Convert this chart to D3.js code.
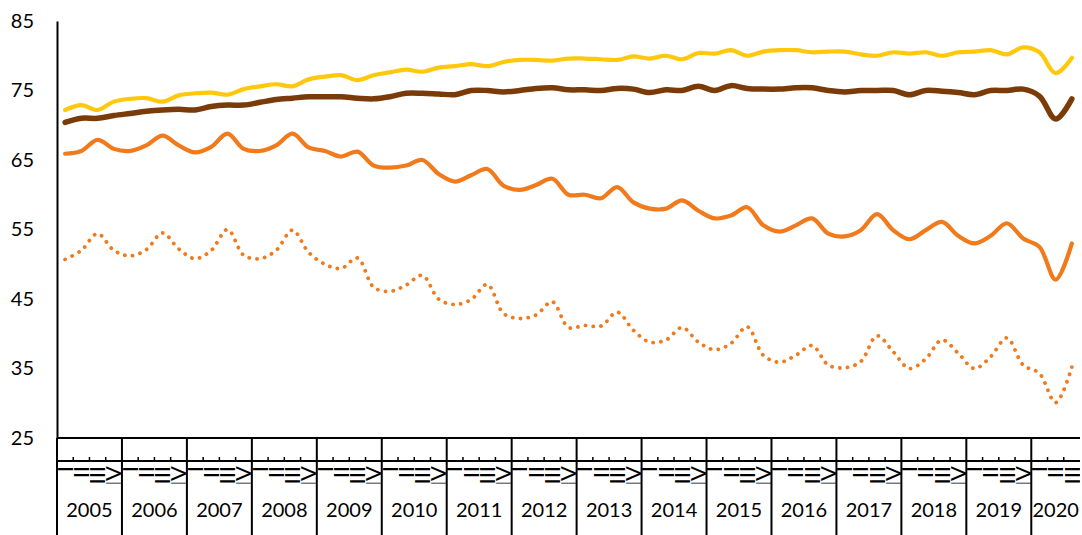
<!DOCTYPE html>
<html lang="en">
<head>
  <meta charset="UTF-8">
  <title>Quarterly series 2005-2020</title>
  <script src="https://cdn.jsdelivr.net/npm/d3@7.9.0/dist/d3.min.js"></script>
  <style>
    body { margin: 0; background: #fff; }
    svg { display: block; font-family: Lato, "Open Sans", sans-serif; }
  </style>
</head>
<body>
<div id="chart"></div>
<script>
  // categories
  const years = [2005, 2006, 2007, 2008, 2009, 2010, 2011, 2012,
                 2013, 2014, 2015, 2016, 2017, 2018, 2019, 2020];
  const quarterNames = ["I", "II", "III", "IV"];
  const quartersIn = [4, 4, 4, 4, 4, 4, 4, 4, 4, 4, 4, 4, 4, 4, 4, 3];
  const yTicks = [25, 35, 45, 55, 65, 75, 85];

  // series values, one per quarter
  const yellowSeries = [
    72.2, 72.9, 72.2, 73.4,  73.8, 73.9, 73.4, 74.3,  74.6, 74.7, 74.4, 75.2,  75.6, 75.9, 75.6, 76.6,
    77.0, 77.2, 76.5, 77.2,  77.6, 78.0, 77.7, 78.3,  78.5, 78.8, 78.5, 79.1,  79.4, 79.4, 79.3, 79.6,
    79.6, 79.5, 79.4, 79.9,  79.6, 80.0, 79.5, 80.4,  80.3, 80.8, 80.0, 80.6,  80.8, 80.8, 80.5, 80.6,
    80.6, 80.2, 80.0, 80.5,  80.3, 80.5, 80.0, 80.5,  80.6, 80.8, 80.2, 81.2,  80.5, 77.5, 79.7
  ];
  const brownSeries = [
    70.4, 71.0, 71.0, 71.4,  71.7, 72.0, 72.2, 72.3,  72.2, 72.7, 72.9, 72.9,  73.3, 73.7, 73.9, 74.1,
    74.1, 74.1, 73.9, 73.8,  74.1, 74.6, 74.6, 74.5,  74.4, 75.0, 75.0, 74.8,  75.0, 75.3, 75.4, 75.1,
    75.1, 75.0, 75.3, 75.2,  74.7, 75.1, 75.0, 75.6,  75.0, 75.7, 75.3, 75.2,  75.2, 75.4, 75.4, 75.0,
    74.8, 75.0, 75.0, 75.0,  74.4, 75.0, 74.9, 74.7,  74.4, 75.0, 75.0, 75.2,  74.2, 70.9, 73.8
  ];
  const orangeSeries = [
    65.9, 66.3, 67.9, 66.6,  66.3, 67.1, 68.5, 67.1,  66.1, 66.9, 68.8, 66.6,  66.3, 67.1, 68.8, 66.8,
    66.3, 65.5, 66.2, 64.2,  63.9, 64.2, 65.0, 63.0,  61.9, 62.8, 63.7, 61.3,  60.7, 61.4, 62.3, 60.0,
    60.0, 59.5, 61.1, 58.9,  58.0, 58.0, 59.2, 57.7,  56.6, 57.0, 58.2, 55.6,  54.7, 55.6, 56.6, 54.4,
    54.0, 54.9, 57.2, 54.9,  53.6, 54.9, 56.1, 54.1,  53.0, 54.1, 55.9, 53.7,  52.5, 47.8, 53.0
  ];
  const dottedSeries = [
    50.7, 52.0, 54.4, 52.0,  51.2, 52.1, 54.5, 52.2,  50.8, 52.0, 55.0, 51.3,  50.8, 52.0, 54.9, 51.7,
    50.0, 49.4, 50.9, 46.7,  46.1, 47.0, 48.4, 45.0,  44.2, 44.9, 47.1, 42.9,  42.2, 42.7, 44.6, 40.9,
    41.2, 41.1, 43.1, 40.5,  38.8, 39.1, 40.9, 38.8,  37.7, 38.6, 41.0, 36.9,  35.9, 36.9, 38.3, 35.5,
    35.1, 36.0, 39.7, 37.4,  35.0, 36.4, 39.1, 37.2,  35.0, 36.7, 39.4, 35.5,  34.3, 30.1, 35.2
  ];

  const width = 1082, height = 535;
  const plotLeft = 57, plotRight = 1080, plotTop = 21, plotBottom = 438;

  // one key per quarter: "2005-I" ...
  const quarters = [];
  years.forEach((yr, i) => {
    for (let q = 0; q < quartersIn[i]; q++) quarters.push({ year: yr, q: quarterNames[q], key: yr + "-" + quarterNames[q] });
  });

  const x = d3.scaleBand().domain(quarters.map(d => d.key)).range([plotLeft, plotRight]);
  const y = d3.scaleLinear().domain([25, 85]).range([plotBottom, plotTop]);

  const svg = d3.select("#chart").append("svg")
    .attr("width", width)
    .attr("height", height);

  const series = [
    { values: dottedSeries, color: "#F07A1C", width: 3.8, dash: "0.1 7.7" },
    { values: orangeSeries, color: "#F07A1C", width: 4.2, dash: null },
    { values: brownSeries,  color: "#7A3B08", width: 5.5, dash: null },
    { values: yellowSeries, color: "#FFC80C", width: 4.2, dash: null }
  ];

  const line = d3.line()
    .x((d, i) => x(quarters[i].key) + x.bandwidth() / 2)
    .y(d => y(d))
    .curve(d3.curveCatmullRom);

  svg.append("g")
    .selectAll("path")
    .data(series)
    .enter().append("path")
    .attr("d", d => line(d.values))
    .attr("fill", "none")
    .attr("stroke", d => d.color)
    .attr("stroke-width", d => d.width)
    .attr("stroke-linecap", "round")
    .attr("stroke-linejoin", "round")
    .attr("stroke-dasharray", d => d.dash);

  // y axis
  const yAxis = svg.append("g")
    .attr("transform", `translate(${plotLeft},0)`)
    .call(d3.axisLeft(y).tickValues(yTicks).tickSize(0).tickPadding(23).tickFormat(d3.format("d")));
  yAxis.select(".domain").attr("stroke", "#000").attr("stroke-width", 2);
  yAxis.selectAll("text")
    .attr("font-family", "Lato, 'Open Sans', sans-serif")
    .attr("font-size", 20)
    .attr("fill", "#000");

  // x axis: quarter level
  const xg = svg.append("g");
  xg.append("line")
    .attr("x1", plotLeft).attr("x2", plotRight)
    .attr("y1", plotBottom).attr("y2", plotBottom)
    .attr("stroke", "#000").attr("stroke-width", 2);
  xg.append("line")
    .attr("x1", plotLeft).attr("x2", plotRight)
    .attr("y1", 461).attr("y2", 461)
    .attr("stroke", "#000").attr("stroke-width", 2);
  xg.selectAll(".qtick")
    .data(quarters.filter(d => d.q !== "I"))
    .enter().append("line")
    .attr("x1", d => x(d.key)).attr("x2", d => x(d.key))
    .attr("y1", 457).attr("y2", 461)
    .attr("stroke", "#000").attr("stroke-width", 1.5);

  const clip = svg.append("clipPath").attr("id", "qclip");
  clip.append("rect").attr("x", plotLeft).attr("y", 462).attr("width", plotRight - plotLeft).attr("height", 21.5);

  xg.append("g")
    .attr("clip-path", "url(#qclip)")
    .selectAll("text")
    .data(quarters)
    .enter().append("text")
    .attr("transform", d => `translate(${x(d.key) + x.bandwidth() - 0.5},466) rotate(-90)`)
    .attr("text-anchor", "end")
    .attr("font-size", 22)
    .attr("fill", "#000")
    .text(d => d.q);

  // x axis: year level
  const yearStart = {};
  quarters.forEach(d => { if (!(d.year in yearStart)) yearStart[d.year] = x(d.key); });
  const bounds = years.map(yr => yearStart[yr]);
  xg.selectAll(".ysep")
    .data(bounds)
    .enter().append("line")
    .attr("x1", d => d).attr("x2", d => d)
    .attr("y1", plotBottom).attr("y2", height)
    .attr("stroke", "#000").attr("stroke-width", 2);

  xg.selectAll(".ylab")
    .data(years)
    .enter().append("text")
    .attr("x", (yr, i) => {
      const x0 = bounds[i];
      const x1 = i + 1 < bounds.length ? bounds[i + 1] : plotRight;
      return (x0 + x1) / 2;
    })
    .attr("y", 517)
    .attr("text-anchor", "middle")
    .attr("font-size", 20)
    .attr("fill", "#000")
    .text(d => d);
</script>
</body>
</html>
